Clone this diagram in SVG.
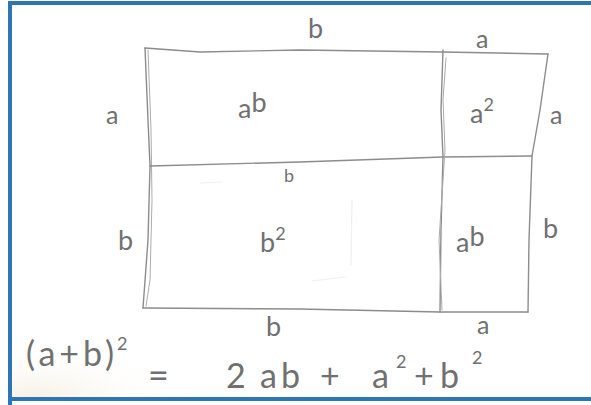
<svg xmlns="http://www.w3.org/2000/svg" width="591" height="405" viewBox="0 0 591 405">
  <defs>
    <style>
      .pen { fill: none; stroke: #8c8c8c; stroke-width: 1.4; stroke-linecap: round; stroke-linejoin: round; }
      .pen2 { fill: none; stroke: #ababab; stroke-width: 1; stroke-linecap: round; }
      .faint { fill: none; stroke: #efefef; stroke-width: 1.2; stroke-linecap: round; }
      .lbl { font-family: Lato, "Open Sans", "DejaVu Sans", sans-serif; font-weight: 400; fill: #707070; }
      .big { font-size: 27px; }
      .mid { font-size: 25px; }
      .sm { font-size: 18px; }
      .eq { font-size: 34px; }
    </style>
    <radialGradient id="paper" cx="0.1" cy="1" r="0.6">
      <stop offset="0" stop-color="#f6f1e6"/>
      <stop offset="1" stop-color="#ffffff" stop-opacity="0"/>
    </radialGradient>
  </defs>
  <rect x="0" y="0" width="591" height="405" fill="#ffffff"/>
  <rect x="10" y="300" width="260" height="98" fill="url(#paper)"/>
  <g id="frame">
    <path d="M10 405 V3 H591" fill="none" stroke="#2e75b6" stroke-width="4"/>
    <path d="M8 399 H591" fill="none" stroke="#2e75b6" stroke-width="4"/>
  </g>
  <g id="connectors">
    <path class="pen" d="M145 48 L200 52 L300 50 L443 52 L548 54"/>
    <path class="pen" d="M145 48 L148 120 L150 166 L148 240 L143 308"/>
    <path class="pen2" d="M148 50 L151 130 L152 200 L150 280 L146 306"/>
    <path class="pen" d="M150 166 L300 162 L443 157 L532 156"/>
    <path class="pen" d="M443 50 L441 110 L443 157 L441 230 L440 312"/>
    <path class="pen2" d="M446 58 L443 100 L445 150 L439 240 L442 310"/>
    <path class="pen" d="M548 54 L540 110 L532 156 L529 240 L528 312"/>
    <path class="pen" d="M143 308 L300 309 L440 312 L528 312"/>
    <path class="faint" d="M352 200 L351 265"/>
    <path class="faint" d="M200 183 L222 182"/>
    <path class="faint" d="M312 281 L345 277"/>
  </g>
  <g id="cell-ab-top"><text class="lbl big" x="238" y="118">a<tspan dy="-6">b</tspan></text></g>
  <g id="cell-a2"><text class="lbl big" x="470" y="123">a<tspan class="sm" dy="-12">2</tspan></text></g>
  <g id="cell-b2"><text class="lbl big" x="260" y="252">b<tspan class="sm" dy="-12">2</tspan></text></g>
  <g id="cell-ab-bottom"><text class="lbl big" x="456" y="252">a<tspan dy="-6">b</tspan></text></g>
  <g id="labels">
    <text class="lbl big" x="308" y="38">b</text>
    <text class="lbl mid" x="476" y="48">a</text>
    <text class="lbl mid" x="106" y="124">a</text>
    <text class="lbl mid" x="550" y="124">a</text>
    <text class="lbl sm" x="284" y="182">b</text>
    <text class="lbl big" x="118" y="250">b</text>
    <text class="lbl big" x="543" y="238">b</text>
    <text class="lbl big" x="266" y="336">b</text>
    <text class="lbl mid" x="477" y="334">a</text>
  </g>
  <g id="equation">
    <text class="lbl eq" x="26" y="366" letter-spacing="4">(a+b)</text>
    <text class="lbl sm" x="117" y="350">2</text>
    <text class="lbl" font-size="36" x="148" y="388">=</text>
    <text class="lbl eq" y="388"><tspan x="226">2</tspan><tspan x="260" letter-spacing="4">ab</tspan><tspan x="320">+</tspan><tspan x="372">a</tspan><tspan class="sm" x="396" y="368">2</tspan><tspan x="414" y="388">+</tspan><tspan x="440">b</tspan><tspan class="sm" x="472" y="364">2</tspan></text>
  </g>
</svg>
